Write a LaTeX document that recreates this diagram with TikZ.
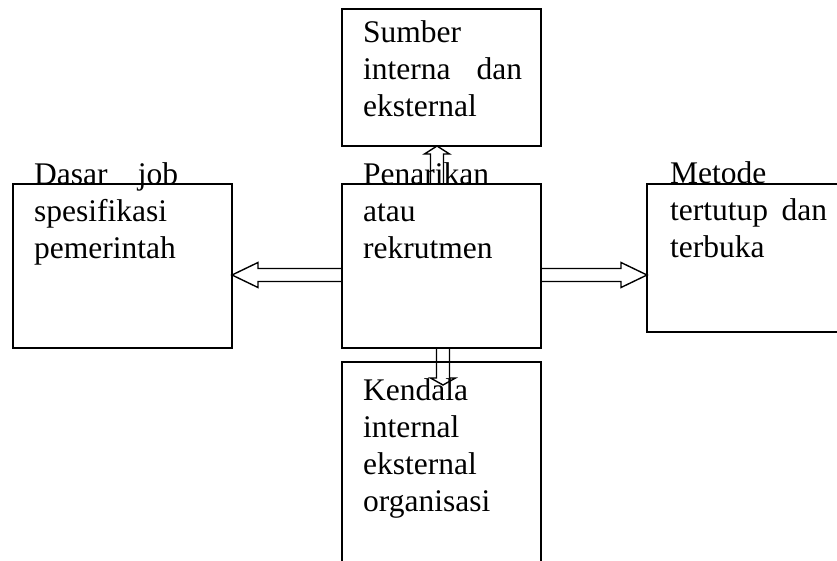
\documentclass[tikz,border=0pt]{standalone}
\usepackage{fontspec}
\setmainfont{Liberation Serif}
\usetikzlibrary{calc}
\usetikzlibrary{positioning}
\tikzset{
  box/.style={draw, line width=1.5pt, inner sep=0, outer sep=0},
  boxtext/.style={inner sep=0, anchor=base west, align=left,
    font=\fontsize{31.5}{37}\selectfont},
  hollow/.style={draw, line width=1.4pt, line join=miter}
}
% #1 head length, #2 start, #3 tip
\newcommand\blockarrow[3]{%
  \coordinate (bh) at ($(#3)!#1!(#2)$);
  \draw[hollow] ($(#2)!6.5pt!90:(#3)$) -- ($(bh)!6.5pt!-90:(#2)$)
    -- ($(bh)!12.5pt!-90:(#2)$) -- (#3) -- ($(bh)!12.5pt!90:(#2)$)
    -- ($(bh)!6.5pt!90:(#2)$) -- ($(#2)!6.5pt!-90:(#3)$) -- cycle;}

\begin{document}
\begin{tikzpicture}[x=1pt, y=-1pt]
  \useasboundingbox (0,0) rectangle (837,561);

  % boxes
  \node[box, minimum width=199pt, minimum height=164pt, anchor=north west]
    (pen) at (342,184) {};
  \node[box, minimum width=199pt, minimum height=137pt, above=38pt of pen]
    (sumber) {};
  \node[box, minimum width=219pt, minimum height=164pt, left=110pt of pen]
    (dasar) {};
  \node[box, minimum width=225pt, minimum height=148pt,
        right=106pt of pen.north east, anchor=north west] (metode) {};
  \node[box, minimum width=199pt, minimum height=220pt, below=14pt of pen]
    (kendala) {};

  % texts
  \node[boxtext, text width=159pt] (sumber-t)
    at ([shift={(21,34)}]sumber.north west)
    {Sumber\\ interna\hfill dan\\ eksternal};
  \node[boxtext, text width=144pt] (dasar-t)
    at ([shift={(21,1)}]dasar.north west)
    {Dasar\hfill job\\ spesifikasi\\ pemerintah};
  \node[boxtext, text width=160pt] (pen-t)
    at ([shift={(21,1)}]pen.north west)
    {Penarikan\\ atau\\ rekrutmen};
  \node[boxtext, text width=157pt] (metode-t)
    at ([shift={(23,0)}]metode.north west)
    {Metode\\ tertutup\hfill dan\\ terbuka};
  \node[boxtext, text width=160pt] (kendala-t)
    at ([shift={(21,38)}]kendala.north west)
    {Kendala\\ internal\\ eksternal\\ organisasi};

  % arrows
  \coordinate (l0) at ([yshift=-9pt]pen.west);
  \coordinate (l1) at (dasar.east |- l0);
  \coordinate (r0) at ([yshift=-9pt]pen.east);
  \coordinate (r1) at (metode.west |- r0);
  \coordinate (u0) at ([xshift=-4.5pt]pen.north);
  \coordinate (u1) at (sumber.south -| u0);
  \coordinate (d0) at ([xshift=1.5pt]pen.south);
  \coordinate (d1) at ($(kendala.north -| d0)+(0,23)$);
  \blockarrow{26pt}{l0}{l1}
  \blockarrow{26pt}{r0}{r1}
  \blockarrow{8pt}{u0}{u1}
  \blockarrow{7pt}{d0}{d1}
\end{tikzpicture}
\end{document}
